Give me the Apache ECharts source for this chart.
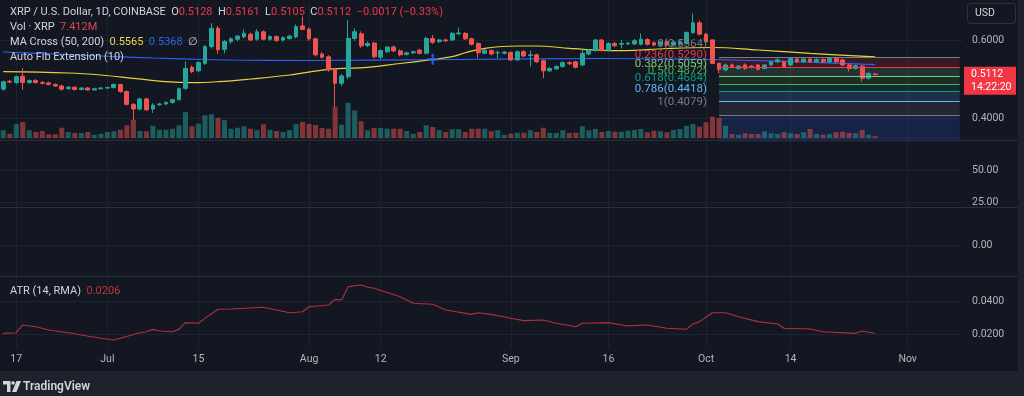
<!DOCTYPE html>
<html><head><meta charset="utf-8">
<script src="https://cdn.jsdelivr.net/npm/echarts@6/dist/echarts.min.js"></script>
<style>html,body{margin:0;padding:0;background:#131722;}#c{width:1024px;height:396px;}</style>
</head><body><div id="c"></div>
<script>
// ---------- DATA ----------
const startDate = '2024-06-15';
const dayCount = 148; // Jun 15 .. Nov 9 (chart extends past last candle)
const tickDates = ['2024-06-17','2024-07-01','2024-07-15','2024-08-01','2024-08-12','2024-09-01','2024-09-16','2024-10-01','2024-10-14','2024-11-01'];
const tickLabels = ['17','Jul','15','Aug','12','Sep','16','Oct','14','Nov'];

const opens = [.474,.494,.491,.507,.491,.496,.491,.490,.486,.482,.475,.479,.473,.477,.472,.475,.477,.478,.486,.468,
.435,.423,.449,.423,.434,.436,.440,.447,.476,.530,.521,.540,.583,.630,.576,.596,.602,.608,.615,.602,
.621,.602,.609,.600,.604,.608,.636,.628,.603,.564,.557,.525,.489,.506,.604,.616,.586,.592,.556,.570,
.582,.572,.563,.567,.574,.566,.604,.596,.600,.600,.616,.617,.603,.591,.566,.573,.567,.566,.568,.549,
.570,.560,.562,.547,.521,.526,.532,.542,.544,.536,.564,.573,.600,.574,.591,.589,.590,.590,.589,.601,
.593,.588,.596,.587,.589,.591,.619,.644,.615,.600,.540,.523,.536,.527,.536,.533,.536,.527,.536,.544,
.544,.536,.551,.544,.551,.544,.550,.544,.553,.549,.536,.527,.533,.502,.5128];
const highs = [.496,.498,.509,.528,.499,.500,.495,.493,.489,.485,.482,.481,.479,.479,.477,.479,.481,.489,.488,.470,
.438,.452,.452,.438,.439,.442,.449,.478,.545,.535,.545,.587,.643,.636,.600,.607,.612,.627,.619,.628,
.625,.612,.612,.609,.613,.640,.660,.632,.606,.569,.561,.528,.512,.651,.630,.622,.596,.595,.576,.585,
.586,.576,.570,.573,.577,.608,.613,.603,.604,.620,.632,.620,.606,.594,.577,.576,.573,.572,.571,.573,
.574,.573,.565,.550,.530,.535,.545,.546,.547,.580,.577,.603,.603,.594,.595,.600,.595,.603,.617,.605,
.596,.598,.599,.598,.600,.622,.668,.650,.618,.602,.543,.539,.540,.536,.540,.536,.539,.539,.547,.555,
.547,.556,.554,.554,.554,.553,.553,.556,.557,.552,.539,.537,.536,.517,.5161];
const lows = [.470,.489,.487,.472,.488,.488,.486,.484,.480,.470,.473,.470,.471,.470,.471,.473,.474,.476,.465,.432,
.395,.420,.418,.413,.431,.433,.437,.445,.472,.515,.517,.536,.578,.565,.566,.590,.597,.604,.597,.598,
.599,.598,.595,.596,.601,.604,.625,.598,.558,.552,.519,.429,.482,.500,.598,.580,.582,.553,.551,.567,
.569,.558,.560,.564,.563,.563,.590,.592,.595,.597,.612,.600,.586,.553,.563,.561,.553,.563,.546,.546,
.556,.532,.541,.502,.518,.523,.529,.536,.527,.533,.561,.570,.570,.571,.582,.578,.587,.587,.586,.586,
.584,.585,.584,.584,.586,.588,.616,.612,.592,.538,.515,.520,.529,.524,.524,.527,.522,.524,.533,.541,
.529,.533,.541,.541,.541,.541,.541,.541,.541,.533,.519,.524,.493,.499,.5105];
const closes = [.493,.492,.506,.491,.496,.491,.489,.486,.482,.474,.479,.473,.477,.472,.475,.477,.478,.486,.468,.435,
.423,.449,.421,.433,.436,.440,.447,.475,.527,.519,.542,.583,.630,.575,.596,.603,.610,.617,.600,.621,
.602,.609,.599,.606,.610,.634,.627,.603,.562,.556,.523,.489,.508,.604,.621,.585,.591,.557,.573,.582,
.572,.562,.567,.570,.566,.604,.594,.600,.598,.617,.618,.603,.589,.567,.574,.564,.568,.569,.549,.570,
.559,.562,.544,.521,.527,.532,.542,.539,.530,.566,.574,.600,.573,.591,.585,.591,.592,.598,.602,.589,
.587,.595,.587,.595,.597,.619,.644,.615,.595,.540,.525,.536,.532,.533,.527,.530,.525,.536,.544,.549,
.532,.553,.544,.551,.544,.550,.544,.553,.544,.536,.527,.534,.502,.5145,.5112];
// volume in millions of XRP
const volumes = [31,17,55,64,31,24,28,15,15,41,24,20,20,24,13,17,24,27,33,51,
73,28,27,49,33,33,37,51,104,47,57,91,95,81,71,37,41,47,37,31,
55,33,28,24,31,55,64,56,52,40,37,125,53,141,110,67,31,40,40,37,
37,37,28,17,24,51,44,31,24,35,35,24,37,37,37,27,31,13,17,21,
21,31,24,41,20,20,31,20,21,47,31,36,24,28,25,25,29,32,36,23,
29,27,23,32,36,49,56,45,63,85,80,49,16,13,19,16,16,27,19,16,
23,19,16,23,36,16,13,16,23,25,20,19,32,13,7.412];
// moving averages read at key days: [dayIndex, value]
const ma50 = [[0,.5187],[10,.5154],[15,.5103],[20,.5018],[25,.4931],[29,.4905],[33,.4931],[38,.5],[44,.5103],[50,.5249],
[56,.53],[61,.5397],[66,.55],[69,.5572],[71,.5674],[74,.5787],[79,.5846],[82,.5846],[87,.5787],[89,.5762],
[95,.5726],[102,.5782],[109,.5808],[116,.5744],[124,.5659],[134,.5565]];
const ma200 = [[0,.5692],[8,.5641],[15,.559],[23,.5538],[31,.55],[35,.5487],[46,.5474],[69,.55],[92,.5526],[108,.55],
[115,.5474],[123,.5436],[134,.5368]];
const crossPoints = [[66,.5505]];
const atr = [[0,.0207],[2,.0211],[3,.0258],[5,.0247],[7,.0227],[10,.0211],[12,.0197],[15,.0177],[17,.0167],[18,.0177],
[21,.0211],[22,.0217],[23,.0231],[24,.0221],[26,.0217],[27,.0231],[28,.0272],[30,.0268],[31,.0298],[33,.0353],
[35,.0355],[40,.0365],[44,.0332],[46,.0338],[47,.0368],[50,.0379],[51,.0413],[52,.0409],[53,.049],[55,.05],
[56,.0486],[57,.048],[61,.0429],[63,.0389],[66,.0383],[68,.0348],[72,.0322],[73,.0332],[75,.0322],[78,.0298],
[80,.0284],[83,.0288],[85,.0268],[88,.0247],[89,.0268],[93,.0272],[96,.0252],[99,.0258],[102,.0238],[105,.0232],
[106,.0264],[107,.0278],[109,.0332],[111,.0332],[113,.0308],[116,.0278],[119,.0264],[120,.0238],[124,.0233],[126,.0217],
[131,.0207],[132,.0221],[134,.0206]];
const fibLevels = [0,0.236,0.382,0.5,0.618,0.786,1,1.618];
const fibPrices = [0.5564,0.5290,0.5059,0.4872,0.4684,0.4418,0.4079,0.3161];
const fibColors = ['#787b86','#f23645','#81c784','#4caf50','#089981','#64b5f6','#787b86','#2962ff'];
const fibStartIndex = 110;
const mainPriceTicks = [0.4,0.6];
const pane2Ticks = [25,50,75];
const pane3Ticks = [0];
const atrTicks = [0.02,0.04];

// ---------- BUILD ----------
const dates = [];
const d0 = new Date(startDate + 'T00:00:00Z');
for (let i = 0; i < dayCount; i++) dates.push(new Date(d0.getTime() + i * 86400000).toISOString().slice(0, 10));
const lastIdx = dayCount - 1;
const candleData = opens.map((o, i) => [o, closes[i], lows[i], highs[i]]);
const UP = '#26a69a', DN = '#ef5350';
const FONT = 'Roboto, "Noto Sans", sans-serif';
const TXT = '#b2b5be';
const GRIDC = '#1f2331';
const tickFn = (idx, val) => tickDates.indexOf(val) >= 0;
function hexA(h, a) { const n = parseInt(h.slice(1), 16); return `rgba(${n >> 16},${(n >> 8) & 255},${n & 255},${a})`; }
function lineColors(min, max, step, vis) {
  const out = []; const n = Math.round((max - min) / step);
  for (let k = 0; k <= n; k++) { const v = min + k * step; out.push(vis.some(t => Math.abs(t - v) < step / 10) ? GRIDC : 'rgba(0,0,0,0)'); }
  return out;
}
const isTick = (vis, v, eps) => vis.some(t => Math.abs(t - v) < eps);

const grids = [
  { left: 0, right: 61, top: 1, height: 140.4 },
  { left: 0, right: 61, top: 68, height: 70 },
  { left: 0, right: 61, top: 138, height: 70.4 },
  { left: 0, right: 61, top: 208, height: 74 },
  { left: 0, right: 61, top: 275.1, height: 72.6 }
];
function xAx(gi, showLabel) {
  return {
    type: 'category', gridIndex: gi, data: dates, boundaryGap: true,
    axisLine: { show: false }, axisTick: { show: false, alignWithLabel: true, interval: tickFn },
    axisLabel: showLabel ? { show: true, interval: tickFn, formatter: v => tickLabels[tickDates.indexOf(v)] || '', color: TXT, fontSize: 10.5, fontFamily: FONT, margin: 6 } : { show: false },
    splitLine: { show: gi !== 1, interval: tickFn, alignWithLabel: true, lineStyle: { color: GRIDC, width: 1 } }
  };
}
function yAx(gi, min, max, step, vis, dec, show) {
  return {
    type: 'value', gridIndex: gi, position: 'right', min, max, interval: step,
    axisLine: { show: false }, axisTick: { show: false },
    axisLabel: { show: show, color: TXT, fontSize: 10.5, fontFamily: FONT, margin: 9,
      formatter: v => isTick(vis, v, step / 10) ? v.toFixed(dec) : '' },
    splitLine: { show: show, showMinLine: true, showMaxLine: true, lineStyle: { color: lineColors(min, max, step, vis), width: 1 } }
  };
}

const fibAreas = [], fibLines = [];
for (let k = 1; k < fibLevels.length; k++) {
  fibAreas.push([{ coord: [fibStartIndex, fibPrices[k - 1]], itemStyle: { color: hexA(fibColors[k], 0.16) } },
                 { coord: [lastIdx, Math.max(fibPrices[k], 0.34)] }]);
}
for (let k = 0; k < 7; k++) {
  fibLines.push([{ coord: [fibStartIndex, fibPrices[k]], lineStyle: { color: fibColors[k], width: 1, type: 'solid' },
    label: { show: true, position: 'start', distance: 12, color: fibColors[k], fontSize: 11.5, fontFamily: FONT,
      verticalAlign: 'bottom', lineHeight: 26, formatter: fibLevels[k] + '(' + fibPrices[k].toFixed(4) + ')' } },
    { coord: [lastIdx, fibPrices[k]] }]);
}

const option = {
  animation: false,
  backgroundColor: '#131722',
  textStyle: { fontFamily: FONT },
  grid: grids,
  xAxis: [xAx(0, false), xAx(1, false), xAx(2, false), xAx(3, false), xAx(4, true)],
  yAxis: [
    yAx(0, 0.34, 0.70, 0.02, mainPriceTicks, 4, true),
    { type: 'value', gridIndex: 1, min: 0, max: 280, show: false, splitLine: { show: false } },
    yAx(2, 20, 75, 5, pane2Ticks, 2, true),
    yAx(3, -1, 1, 1, pane3Ticks, 2, true),
    yAx(4, 0.012, 0.056, 0.002, atrTicks, 4, true)
  ],
  series: [
    { name: 'fib', type: 'line', xAxisIndex: 0, yAxisIndex: 0, data: [], z: 1, silent: true,
      markArea: { silent: true, label: { show: false }, data: fibAreas },
      markLine: { silent: true, symbol: ['none', 'none'], animation: false, data: fibLines } },
    { name: 'Vol', type: 'bar', xAxisIndex: 1, yAxisIndex: 1, data: volumes, z: 2, barWidth: '78%', silent: true,
      itemStyle: { color: p => closes[p.dataIndex] >= opens[p.dataIndex] ? hexA(UP, 0.5) : hexA(DN, 0.5) } },
    { name: 'MA200', type: 'line', xAxisIndex: 0, yAxisIndex: 0, data: ma200, smooth: 0.4, showSymbol: false, z: 3,
      lineStyle: { color: '#2962ff', width: 1.2 }, silent: true },
    { name: 'MA50', type: 'line', xAxisIndex: 0, yAxisIndex: 0, data: ma50, smooth: 0.4, showSymbol: false, z: 3,
      lineStyle: { color: '#e8d23c', width: 1.2 }, silent: true },
    { name: 'XRP', type: 'candlestick', xAxisIndex: 0, yAxisIndex: 0, data: candleData, z: 4, barWidth: '66%', silent: true,
      itemStyle: { color: UP, color0: DN, borderColor: UP, borderColor0: DN, borderWidth: 1 } },
    { name: 'cross', type: 'scatter', xAxisIndex: 0, yAxisIndex: 0, data: crossPoints, z: 6, silent: true,
      symbol: 'path://M0,4H4V0H6V4H10V6H6V10H4V6H0Z', symbolSize: 11, itemStyle: { color: '#2f6bff' } },
    { name: 'ATR', type: 'line', xAxisIndex: 4, yAxisIndex: 4, data: atr, showSymbol: false, z: 3, silent: true,
      lineStyle: { color: '#b3303a', width: 1.1 } }
  ]
};
const chart = echarts.init(document.getElementById('c'), null, { renderer: 'canvas', width: 1024, height: 396 });
chart.setOption(option);

const lastClose = closes[closes.length - 1];
const py = chart.convertToPixel({ yAxisIndex: 0 }, lastClose);
const hdr = { fontSize: 11, fontFamily: FONT };
const g = [
  { type: 'rect', shape: { x: 0, y: 371, width: 1024, height: 25 }, style: { fill: '#1e222d' }, z: 50, silent: true },
  { type: 'rect', shape: { x: 1018, y: 0, width: 6, height: 396 }, style: { fill: '#1e222d' }, z: 50, silent: true },
  { type: 'line', shape: { x1: 0, y1: 140.5, x2: 1018, y2: 140.5 }, style: { stroke: '#2a2e39', lineWidth: 1 }, z: 40, silent: true },
  { type: 'line', shape: { x1: 0, y1: 207.5, x2: 1018, y2: 207.5 }, style: { stroke: '#2a2e39', lineWidth: 1 }, z: 40, silent: true },
  { type: 'line', shape: { x1: 0, y1: 276.5, x2: 1018, y2: 276.5 }, style: { stroke: '#2a2e39', lineWidth: 1 }, z: 40, silent: true },
  { type: 'rect', shape: { x: 964, y: 126, width: 53, height: 14 }, style: { fill: '#131722' }, z: 39, silent: true },
  { type: 'text', x: 10, y: 12, z: 60, silent: true, style: { text: '{t|XRP / U.S. Dollar, 1D, COINBASE}  {l|O}{v|0.5128}  {l|H}{v|0.5161}  {l|L}{v|0.5105}  {l|C}{v|0.5112}  {v|−0.0017 (−0.33%)}', verticalAlign: 'middle', ...hdr,
    rich: { t: { fill: '#d1d4dc', ...hdr }, l: { fill: '#d1d4dc', ...hdr }, v: { fill: '#f23645', ...hdr } } } },
  { type: 'text', x: 10, y: 27, z: 60, silent: true, style: { text: '{t|Vol · XRP}  {v|7.412M}', verticalAlign: 'middle', ...hdr,
    rich: { t: { fill: '#d1d4dc', ...hdr }, v: { fill: '#e0474f', ...hdr } } } },
  { type: 'text', x: 10, y: 42, z: 60, silent: true, style: { text: '{t|MA Cross (50, 200)}  {y|0.5565}  {b|0.5368}  {t|∅}', verticalAlign: 'middle', ...hdr,
    rich: { t: { fill: '#d1d4dc', ...hdr }, y: { fill: '#f0d84a', ...hdr }, b: { fill: '#2f63e8', ...hdr } } } },
  { type: 'text', x: 10, y: 57, z: 60, silent: true, style: { text: 'Auto Fib Extension (10)', fill: '#d1d4dc', verticalAlign: 'middle', ...hdr } },
  { type: 'text', x: 10, y: 291, z: 60, silent: true, style: { text: '{t|ATR (14, RMA)}  {v|0.0206}', verticalAlign: 'middle', ...hdr,
    rich: { t: { fill: '#d1d4dc', ...hdr }, v: { fill: '#c0343c', ...hdr } } } },
  { type: 'rect', shape: { x: 967.5, y: 3.5, width: 48, height: 20, r: 3 }, style: { fill: '#131722', stroke: '#2e323e', lineWidth: 1 }, z: 60, silent: true },
  { type: 'text', x: 975, y: 13.5, z: 61, silent: true, style: { text: 'USD', fill: '#d1d4dc', verticalAlign: 'middle', fontSize: 10.5, fontFamily: FONT } },
  { type: 'rect', shape: { x: 964, y: py - 8, width: 52, height: 28 }, style: { fill: '#f23645' }, z: 60, silent: true },
  { type: 'text', x: 971, y: py - 0.5, z: 61, silent: true, style: { text: lastClose.toFixed(4), fill: '#ffffff', verticalAlign: 'middle', fontSize: 10.5, fontFamily: FONT } },
  { type: 'text', x: 971, y: py + 12.5, z: 61, silent: true, style: { text: '14:22:20', fill: '#ffffff', verticalAlign: 'middle', fontSize: 10.5, fontFamily: FONT } },
  { type: 'polygon', shape: { points: [[3, 381], [10.5, 381], [10.5, 392], [7, 392], [7, 384.5], [3, 384.5]] }, style: { fill: '#d1d4dc' }, z: 60, silent: true },
  { type: 'circle', shape: { cx: 13, cy: 383, r: 1.8 }, style: { fill: '#d1d4dc' }, z: 60, silent: true },
  { type: 'polygon', shape: { points: [[16.5, 381], [21, 381], [16.5, 392], [12, 392]] }, style: { fill: '#d1d4dc' }, z: 60, silent: true },
  { type: 'text', x: 23, y: 386.5, z: 60, silent: true, style: { text: 'TradingView', fill: '#d1d4dc', verticalAlign: 'middle', fontSize: 12, fontWeight: 600, fontFamily: FONT } }
];
chart.setOption({ graphic: g });
</script></body></html>
